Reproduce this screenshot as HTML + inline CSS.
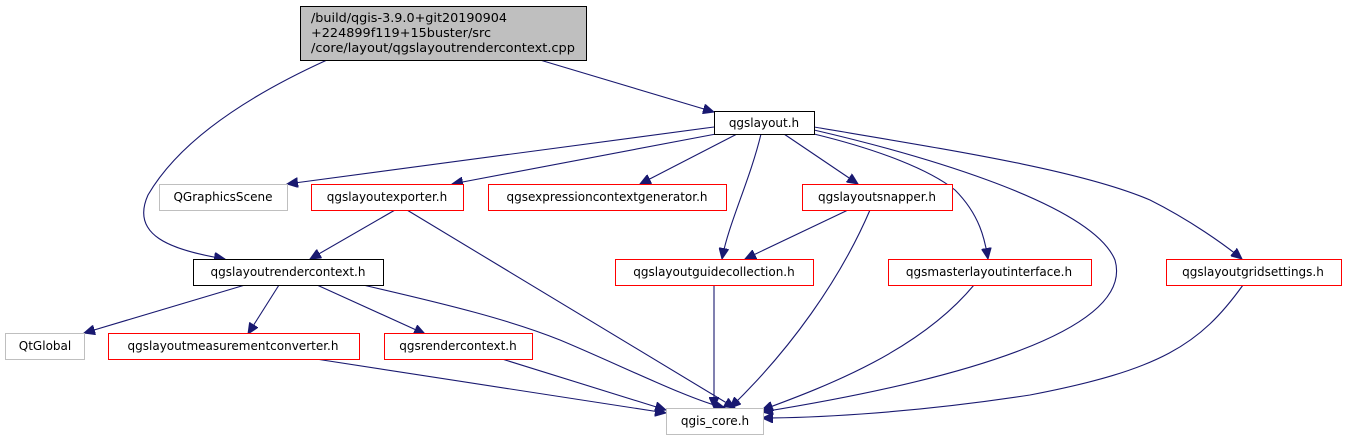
<!DOCTYPE html>
<html><head><meta charset="utf-8"><style>html,body{margin:0;padding:0;background:#fff}svg{display:block}</style></head>
<body>
<svg width="1345" height="440" viewBox="0 0 1345 440" xmlns="http://www.w3.org/2000/svg" font-family="'DejaVu Sans','Liberation Sans',sans-serif" font-size="12">
<defs><marker id="a" markerUnits="userSpaceOnUse" markerWidth="12" markerHeight="10" refX="11" refY="5" orient="auto"><path d="M0,0 L11,5 L0,10 z" fill="#191970" stroke="#191970"/></marker></defs>
<g fill="none" stroke="#191970" stroke-width="1.1" marker-end="url(#a)">
<path d="M540,60 L714,112"/>
<path d="M327,60 C250,95 180,140 148,195 C130,235 170,250 225,259"/>
<path d="M714,127 L287,184"/>
<path d="M716,134 L452,184"/>
<path d="M737,134 L640,184"/>
<path d="M761,134 C750,180 728,225 722,259"/>
<path d="M784,134 L858,184"/>
<path d="M814,134 C880,150 930,170 955,190 C980,215 985,240 988,259"/>
<path d="M814,130 C900,150 1090,200 1115,260 C1135,330 960,380 762,412"/>
<path d="M814,127 C950,150 1080,170 1150,200 C1190,220 1225,245 1242,259"/>
<path d="M395,210 L310,259"/>
<path d="M407,210 L735,408"/>
<path d="M848,210 L745,259"/>
<path d="M870,210 C840,280 790,350 730,408"/>
<path d="M714,285 L714,408"/>
<path d="M974,285 C920,350 830,385 762,410"/>
<path d="M1243,285 C1200,345 1160,370 1030,395 C900,415 800,418 762,418"/>
<path d="M245,285 L84,333"/>
<path d="M279,285 L248,334"/>
<path d="M317,285 L425,334"/>
<path d="M363,285 C450,305 510,320 560,340 C620,365 690,400 725,408"/>
<path d="M316,359 L666,413"/>
<path d="M502,359 L666,410"/>
</g>
<g stroke-width="1">
<rect x="300.5" y="6.5" width="286" height="54" fill="#bfbfbf" stroke="#000"/>
<rect x="714.5" y="111.5" width="100" height="23" fill="#fff" stroke="#000"/>
<rect x="159.5" y="184.5" width="128" height="26" fill="#fff" stroke="#bfbfbf"/>
<rect x="311.5" y="184.5" width="152" height="26" fill="#fff" stroke="#f00"/>
<rect x="488.5" y="184.5" width="238" height="26" fill="#fff" stroke="#f00"/>
<rect x="802.5" y="184.5" width="150" height="26" fill="#fff" stroke="#f00"/>
<rect x="193.5" y="259.5" width="190" height="26" fill="#fff" stroke="#000"/>
<rect x="615.5" y="259.5" width="198" height="26" fill="#fff" stroke="#f00"/>
<rect x="888.5" y="259.5" width="203" height="26" fill="#fff" stroke="#f00"/>
<rect x="1166.5" y="259.5" width="175" height="26" fill="#fff" stroke="#f00"/>
<rect x="5.5" y="333.5" width="79" height="26" fill="#fff" stroke="#bfbfbf"/>
<rect x="108.5" y="333.5" width="251" height="26" fill="#fff" stroke="#f00"/>
<rect x="384.5" y="333.5" width="148" height="26" fill="#fff" stroke="#f00"/>
<rect x="666.5" y="408.5" width="97" height="26" fill="#fff" stroke="#bfbfbf"/>
</g>
<g fill="#000">
<text x="311" y="22" textLength="196" lengthAdjust="spacingAndGlyphs">/build/qgis-3.9.0+git20190904</text>
<text x="311" y="37" textLength="180" lengthAdjust="spacingAndGlyphs">+224899f119+15buster/src</text>
<text x="311" y="52" textLength="264" lengthAdjust="spacingAndGlyphs">/core/layout/qgslayoutrendercontext.cpp</text>
<text x="764" y="127" text-anchor="middle">qgslayout.h</text>
<text x="223" y="201" text-anchor="middle">QGraphicsScene</text>
<text x="387" y="201" text-anchor="middle">qgslayoutexporter.h</text>
<text x="607" y="201" text-anchor="middle">qgsexpressioncontextgenerator.h</text>
<text x="877" y="201" text-anchor="middle">qgslayoutsnapper.h</text>
<text x="288" y="276" text-anchor="middle">qgslayoutrendercontext.h</text>
<text x="714" y="276" text-anchor="middle">qgslayoutguidecollection.h</text>
<text x="989" y="276" text-anchor="middle">qgsmasterlayoutinterface.h</text>
<text x="1253" y="276" text-anchor="middle">qgslayoutgridsettings.h</text>
<text x="45" y="350" text-anchor="middle">QtGlobal</text>
<text x="233" y="350" text-anchor="middle">qgslayoutmeasurementconverter.h</text>
<text x="458" y="350" text-anchor="middle">qgsrendercontext.h</text>
<text x="715" y="425" text-anchor="middle">qgis_core.h</text>
</g>
</svg>
</body></html>
